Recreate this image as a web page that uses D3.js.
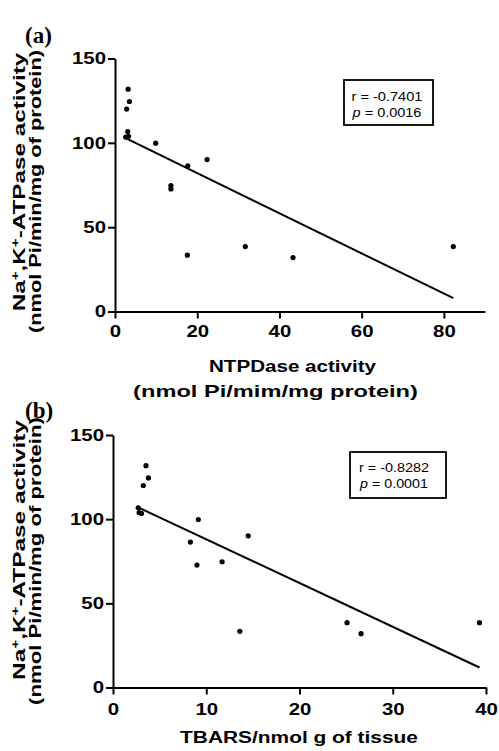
<!DOCTYPE html>
<html>
<head>
<meta charset="utf-8">
<script src="https://cdn.jsdelivr.net/npm/d3@7"></script>
<style>
  body { margin: 0; background: #fff; }
  svg { display: block; }
  text { font-family: "Liberation Sans", Arial, sans-serif; fill: #000; }
</style>
</head>
<body>
<svg id="chart" width="499" height="751"></svg>
<script>
// Na+,K+-ATPase activity, same samples in both panels
const activity = [131.8, 124.5, 120.0, 106.7, 103.4, 103.9, 99.8, 90.1, 86.4, 74.7, 72.7, 38.5, 38.5, 33.4, 32.0]
const ntpdase  = [3.2, 3.5, 2.85, 3.1, 2.6, 3.3, 9.9, 22.4, 17.7, 13.6, 13.6, 31.7, 82.3, 17.6, 43.3]
const tbars    = [3.54, 3.8, 3.25, 2.7, 3.05, 2.8, 9.15, 14.5, 8.3, 11.7, 9.0, 25.1, 39.3, 13.6, 26.6]

const ticksA = [0, 20, 40, 60, 80]
const ticksB = [0, 10, 20, 30, 40]
const ticksY = [0, 50, 100, 150]

// regression lines: [intercept, slope] and x extent
const fitA = [105.9, -1.191]
const fitRangeA = [2.6, 82.3]
const fitB = [114.0, -2.598]
const fitRangeB = [2.54, 39.3]

const statsA = ['-0.7401', '0.0016']
const statsB = ['-0.8282', '0.0001']

const svg = d3.select('#chart')

// stretch a text (anchored middle at its origin) to a given visible width
function stretchTo(sel, width) {
    const w = sel.node().getBBox().width
    sel.attr('transform', `scale(${width / w},1)`)
}

function drawPanel(cfg) {
    const x = d3.scaleLinear().domain(cfg.xDomain).range(cfg.xRange)
    const y = d3.scaleLinear().domain([0, 150]).range(cfg.yRange)
    const g = svg.append('g')
    const TICK_STRETCH = 1.2

    // x axis
    const xAxis = g.append('g')
        .attr('transform', `translate(0,${cfg.yRange[0]})`)
        .call(d3.axisBottom(x).tickValues(cfg.xTicks).tickSize(7).tickSizeOuter(0).tickPadding(cfg.xPad))
    xAxis.select('.domain').attr('stroke-width', 2)
    xAxis.selectAll('.tick line').attr('stroke-width', 2)
    xAxis.selectAll('.tick text')
        .attr('font-size', 17).attr('font-weight', 'bold')
        .attr('font-family', '"Liberation Sans", Arial, sans-serif')
        .attr('transform', `scale(${TICK_STRETCH},1)`)

    // y axis
    const yAxis = g.append('g')
        .attr('transform', `translate(${cfg.xRange[0]},0)`)
        .call(d3.axisLeft(y).tickValues(ticksY).tickSize(7).tickSizeOuter(0).tickPadding(2))
    yAxis.select('.domain').attr('stroke-width', 2)
    yAxis.selectAll('.tick line').attr('stroke-width', 2)
    yAxis.selectAll('.tick text')
        .attr('font-size', 17).attr('font-weight', 'bold')
        .attr('font-family', '"Liberation Sans", Arial, sans-serif')
        .attr('x', -9 / TICK_STRETCH)
        .attr('transform', `scale(${TICK_STRETCH},1)`)

    // regression line
    const line = d3.line().x((d) => x(d)).y((d) => y(cfg.fit[0] + cfg.fit[1] * d))
    g.append('path')
        .attr('d', line(cfg.fitRange))
        .attr('fill', 'none')
        .attr('stroke', '#000')
        .attr('stroke-width', 2)

    // points
    g.selectAll('.dot')
        .data(cfg.xs.map((v, i) => [v, activity[i]]))
        .enter()
        .append('circle')
            .attr('class', 'dot')
            .attr('cx', (d) => x(d[0]))
            .attr('cy', (d) => y(d[1]))
            .attr('r', 2.6)
            .attr('fill', '#000')

    // stats box
    const b = cfg.box
    g.append('rect')
        .attr('x', b.x).attr('y', b.y).attr('width', b.w).attr('height', b.h)
        .attr('fill', '#fff').attr('stroke', '#000').attr('stroke-width', 1.8)
    const r = g.append('g').attr('transform', `translate(${b.tx},${b.y + b.l1})`)
        .append('text').attr('text-anchor', 'middle').attr('font-size', 13)
        .text(`r = ${cfg.stats[0]}`)
    stretchTo(r, b.tw)
    const p = g.append('g').attr('transform', `translate(${b.tx},${b.y + b.l2})`)
        .append('text').attr('text-anchor', 'middle').attr('font-size', 13)
    p.append('tspan').attr('font-style', 'italic').text('p')
    p.append('tspan').text(` = ${cfg.stats[1]}`)
    stretchTo(p, b.tw - 1)

    // panel letter
    g.append('text')
        .attr('x', 25).attr('y', cfg.letterY)
        .attr('font-weight', 'bold').attr('font-size', 23)
        .style('font-family', '"Liberation Serif", "Times New Roman", serif')
        .text(cfg.letter)

    // y label, two rotated lines
    const yl1 = g.append('g').attr('transform', `translate(25,${cfg.yl1[0]}) rotate(-90)`)
        .append('text').attr('text-anchor', 'middle').attr('font-size', 16).attr('font-weight', 'bold')
    yl1.append('tspan').text('Na')
    yl1.append('tspan').attr('font-size', 10).attr('dy', -6).text('+')
    yl1.append('tspan').attr('dy', 6).text(',K')
    yl1.append('tspan').attr('font-size', 10).attr('dy', -6).text('+')
    yl1.append('tspan').attr('dy', 6).text('-ATPase activity')
    stretchTo(yl1, cfg.yl1[1])

    const yl2 = g.append('g').attr('transform', `translate(41,${cfg.yl2[0]}) rotate(-90)`)
        .append('text').attr('text-anchor', 'middle').attr('font-size', 16).attr('font-weight', 'bold')
        .text('(nmol Pi/min/mg of protein)')
    stretchTo(yl2, cfg.yl2[1])

    // x label lines
    cfg.xLabels.forEach((lab) => {
        const t = g.append('g').attr('transform', `translate(${lab.cx},${lab.y})`)
            .append('text').attr('text-anchor', 'middle').attr('font-size', 17).attr('font-weight', 'bold')
            .text(lab.text)
        stretchTo(t, lab.w)
    })
}

drawPanel({
    xDomain: [0, 90], xRange: [115, 485], yRange: [311.5, 58.5],
    xTicks: ticksA, xPad: 6, xs: ntpdase,
    fit: fitA, fitRange: fitRangeA, stats: statsA,
    box: {x: 344, y: 80, w: 89, h: 45, tx: 387, tw: 71, l1: 21, l2: 37},
    letter: '(a)', letterY: 43,
    yl1: [182, 259], yl2: [191.5, 283],
    xLabels: [
        {text: 'NTPDase activity', cx: 292.5, y: 371.5, w: 168},
        {text: '(nmol Pi/mim/mg protein)', cx: 275.5, y: 396.5, w: 285}
    ]
})

drawPanel({
    xDomain: [0, 40], xRange: [113, 486], yRange: [687.5, 435],
    xTicks: ticksB, xPad: 8, xs: tbars,
    fit: fitB, fitRange: fitRangeB, stats: statsB,
    box: {x: 350, y: 452, w: 96, h: 46, tx: 394, tw: 70, l1: 20, l2: 35.5},
    letter: '(b)', letterY: 418,
    yl1: [550, 260], yl2: [561, 288],
    xLabels: [
        {text: 'TBARS/nmol g of tissue', cx: 299, y: 743, w: 238}
    ]
})
</script>
</body>
</html>
